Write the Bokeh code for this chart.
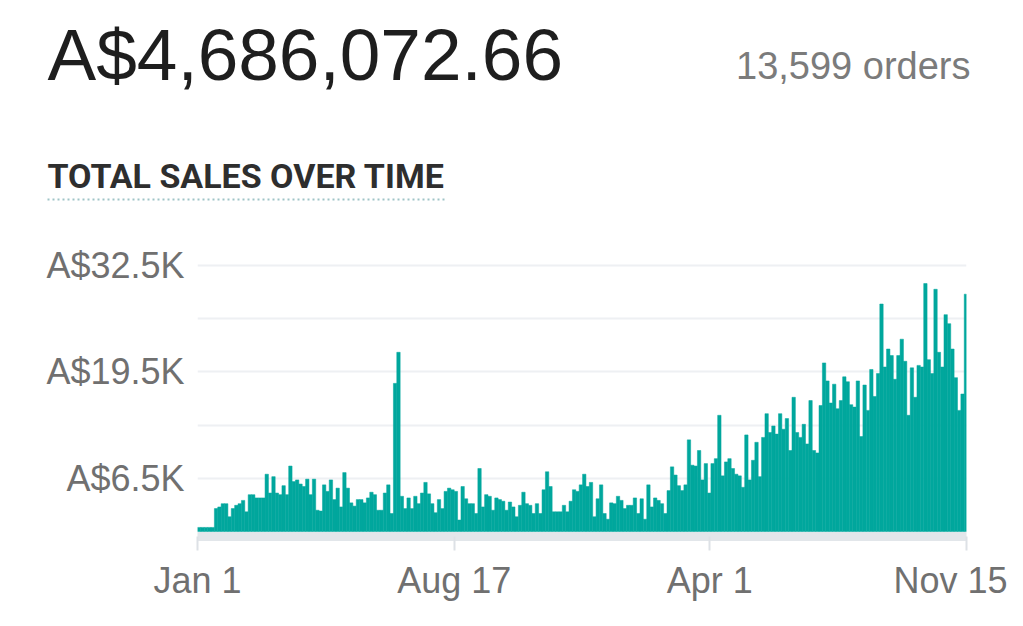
import pandas as pd
from bokeh.core.properties import value
from bokeh.embed import file_html
from bokeh.layouts import column
from bokeh.models import ColumnDataSource, FixedTicker, PrintfTickFormatter, Range1d
from bokeh.plotting import figure
from bokeh.resources import INLINE

total_sales = "A$4,686,072.66"
order_count = "13,599 orders"
chart_title = "TOTAL SALES OVER TIME"

# sales per 3-day bin in thousands of A$, first bin starts Jan 1 2017
sales_k = [
    0.5, 0.5, 0.5, 0.5, 0.5, 2.8, 3.0, 3.4, 3.4, 1.8,
    2.8, 3.2, 3.4, 3.8, 2.4, 4.5, 4.5, 4.1, 4.1, 4.1,
    7.0, 4.7, 6.7, 4.7, 4.5, 5.6, 4.5, 8.0, 6.1, 6.3,
    5.8, 5.5, 6.4, 4.5, 6.4, 2.6, 2.5, 5.7, 4.9, 6.3,
    3.9, 5.3, 3.0, 7.2, 5.3, 3.5, 3.1, 3.9, 3.9, 3.5,
    4.1, 4.8, 4.5, 2.6, 2.6, 4.7, 5.7, 2.2, 18.1, 21.9,
    4.3, 2.8, 4.1, 2.8, 4.3, 3.4, 4.7, 6.0, 4.6, 3.4,
    2.3, 3.9, 2.8, 4.9, 5.3, 5.1, 4.9, 1.4, 5.5, 4.0,
    3.4, 3.4, 2.2, 7.7, 3.0, 4.5, 4.3, 2.6, 4.1, 3.9,
    3.7, 2.6, 3.6, 3.0, 1.8, 3.2, 4.8, 3.4, 3.2, 2.2,
    3.4, 2.2, 5.1, 7.3, 5.5, 2.4, 2.4, 2.4, 3.2, 2.4,
    3.7, 5.1, 4.9, 5.7, 7.0, 5.5, 6.0, 1.8, 4.0, 5.7,
    2.2, 1.5, 3.5, 3.4, 4.3, 3.8, 2.8, 3.2, 3.2, 4.1,
    2.2, 4.0, 1.5, 5.7, 3.0, 4.1, 3.8, 3.4, 2.2, 5.0,
    7.9, 6.9, 5.6, 5.0, 5.7, 11.2, 8.1, 8.0, 9.9, 6.3,
    8.3, 4.7, 8.3, 8.9, 14.2, 6.8, 8.5, 8.9, 7.7, 7.0,
    6.8, 5.4, 11.8, 6.3, 8.7, 10.9, 6.7, 11.5, 14.4, 12.1,
    12.9, 11.9, 14.4, 12.5, 13.8, 9.9, 16.4, 12.1, 11.5, 13.1,
    10.7, 16.0, 9.9, 9.6, 15.4, 20.6, 18.4, 15.7, 18.0, 15.0,
    16.0, 18.9, 18.3, 15.5, 15.2, 18.4, 11.6, 17.9, 14.8, 19.8,
    16.5, 19.3, 27.8, 20.1, 22.3, 21.5, 18.6, 21.5, 23.5, 20.8,
    14.2, 20.0, 16.4, 20.3, 20.1, 30.3, 21.0, 19.3, 29.6, 21.9,
    20.1, 26.5, 25.4, 22.3, 18.8, 14.8, 16.8, 29.0,
]

tick_dates = ["2017-01-01", "2017-08-17", "2018-04-01", "2018-11-15"]
tick_labels = ["Jan 1", "Aug 17", "Apr 1", "Nov 15"]
y_ticks = [6.5, 19.5, 32.5]
grid_ticks = [6.5, 13, 19.5, 26, 32.5]

TEAL = "#00a79d"
FONT = "Liberation Sans"
BIN_DAYS = 3
DAY_MS = 86400000

starts = pd.date_range(tick_dates[0], periods=len(sales_k), freq=f"{BIN_DAYS}D")
centers = starts + pd.Timedelta(hours=12 * BIN_DAYS)
src = ColumnDataSource(data=dict(x=centers, top=sales_k))

tick_ms = [pd.Timestamp(d).timestamp() * 1000 for d in tick_dates]


def no_frame_align(fig):
    if "frame_align" in fig.properties():
        fig.frame_align = False


# header: total, order count and section title, in pixel coordinates
head = figure(width=1007, height=232, x_range=Range1d(0, 1007), y_range=Range1d(232, 0),
              x_axis_location=None, y_axis_location=None, min_border=0,
              output_backend="svg", toolbar_location=None)
no_frame_align(head)
head.grid.visible = False
head.outline_line_color = None
head.text(x=[47], y=[54], text=[total_sales], text_font=value(FONT), text_font_size="73px",
          text_color="#1e1e1e", text_baseline="alphabetic")
head.text(x=[970], y=[65], text=[order_count], text_font=value(FONT), text_font_size="38px",
          text_color="#7b7b7b", text_align="right", text_baseline="alphabetic")
head.text(x=[47], y=[175], text=[chart_title], text_font=value("Roboto"),
          text_font_size="34px", text_font_style="bold", text_color="#2e2e2e",
          text_baseline="alphabetic")
head.line(x=[47, 445], y=[199, 199], line_color="#9fc4c7", line_width=2, line_dash="2 3")

# chart
p = figure(width=1007, height=378, x_axis_type="datetime",
           x_range=Range1d(tick_ms[0], tick_ms[-1]), y_range=Range1d(-0.611, 34.338),
           min_border_left=197, min_border_right=41, min_border_top=18, min_border_bottom=74,
           output_backend="svg", toolbar_location=None)
no_frame_align(p)
p.outline_line_color = None
p.vbar(x="x", top="top", bottom=0, width=BIN_DAYS * DAY_MS, source=src,
       fill_color=TEAL, line_color=TEAL, line_width=0.5)

p.xgrid.visible = False
p.ygrid.ticker = FixedTicker(ticks=grid_ticks)
p.ygrid.grid_line_color = "#eef0f3"
p.ygrid.grid_line_width = 2

p.xaxis.ticker = FixedTicker(ticks=tick_ms, minor_ticks=[])
p.xaxis.major_label_overrides = dict(zip(tick_ms, tick_labels))
p.xaxis.axis_line_color = "#e2e6ea"
p.xaxis.axis_line_width = 9
p.xaxis.major_tick_in = 0
p.xaxis.major_tick_out = 14
p.xaxis.major_tick_line_color = "#dde1e6"
p.xaxis.major_tick_line_width = 2
p.xaxis.major_label_standoff = 9

p.yaxis.ticker = FixedTicker(ticks=y_ticks, minor_ticks=[])
p.yaxis.formatter = PrintfTickFormatter(format="A$%.1fK")
p.yaxis.axis_line_color = None
p.yaxis.major_tick_line_color = None
p.yaxis.major_label_standoff = 7

for ax in (p.xaxis, p.yaxis):
    ax.major_label_text_font = FONT
    ax.major_label_text_font_size = "36px"
    ax.major_label_text_color = "#707070"

open("out.html", "w").write(file_html(column(head, p), INLINE))
